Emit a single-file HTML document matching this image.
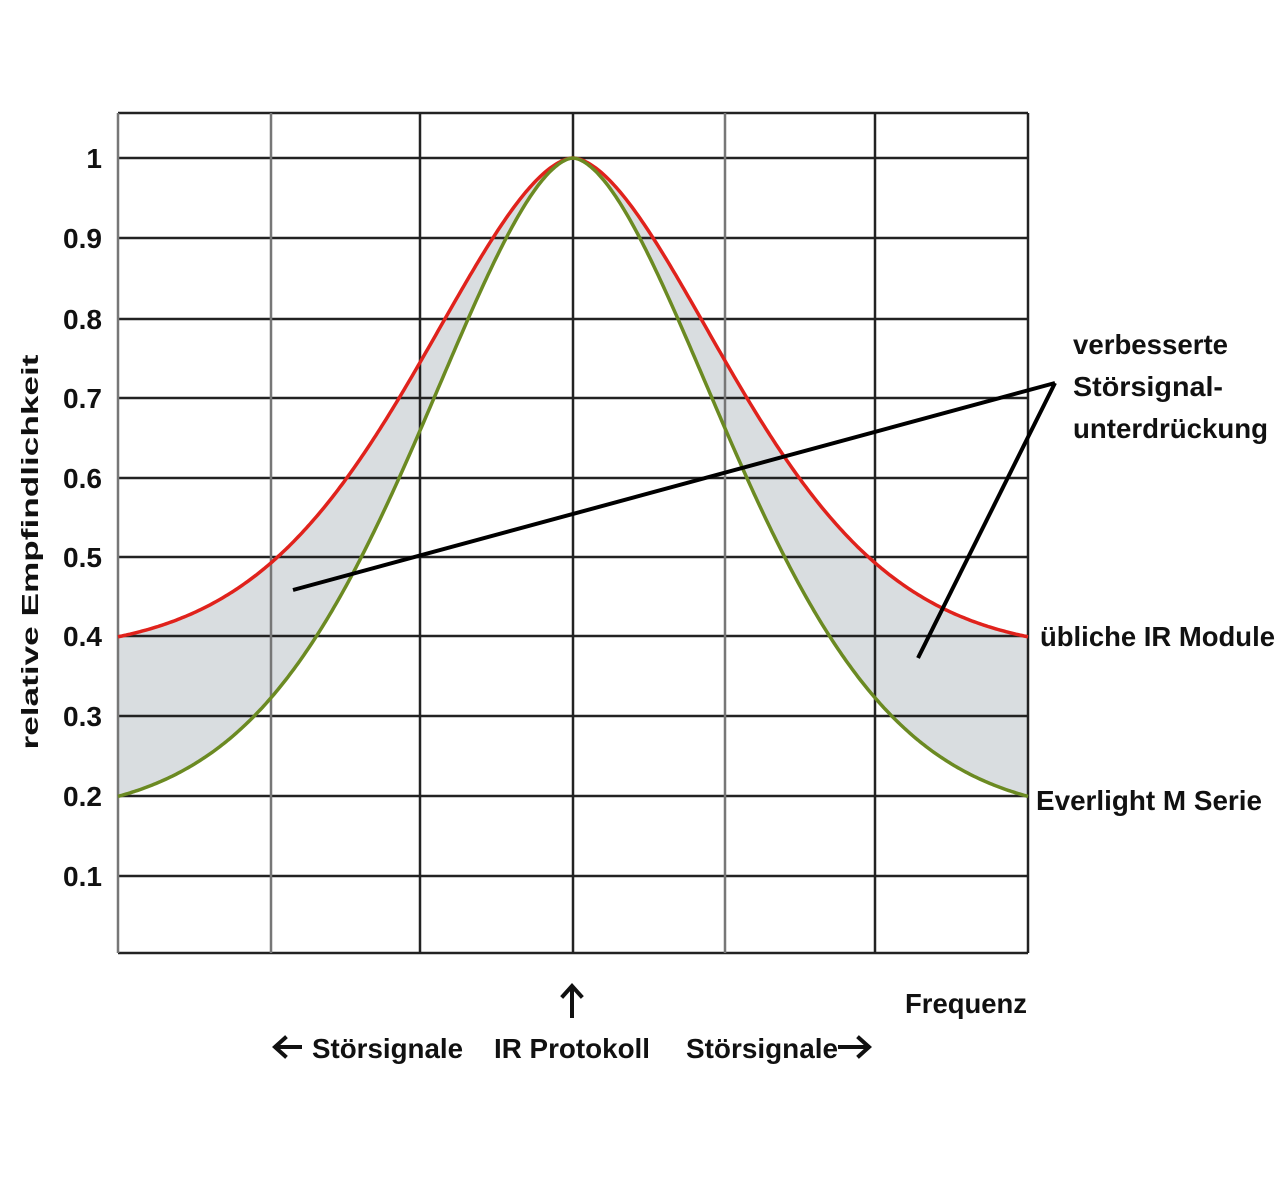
<!DOCTYPE html>
<html><head><meta charset="utf-8"><style>
body{margin:0;background:#fff;width:1280px;height:1190px;overflow:hidden}
text{font-family:"Liberation Sans",sans-serif;font-weight:bold;fill:#111}
</style></head><body>
<svg id="s" width="1280" height="1190" xmlns="http://www.w3.org/2000/svg">
<path id="fill" fill="#d9dde0" stroke="none"/>
<g stroke="#222" stroke-width="2.5">
<line x1="118" y1="113" x2="1028" y2="113"/>
<line x1="118" y1="158" x2="1028" y2="158"/>
<line x1="118" y1="238" x2="1028" y2="238"/>
<line x1="118" y1="319" x2="1028" y2="319"/>
<line x1="118" y1="398" x2="1028" y2="398"/>
<line x1="118" y1="478" x2="1028" y2="478"/>
<line x1="118" y1="557" x2="1028" y2="557"/>
<line x1="118" y1="636" x2="1028" y2="636"/>
<line x1="118" y1="716" x2="1028" y2="716"/>
<line x1="118" y1="796" x2="1028" y2="796"/>
<line x1="118" y1="876" x2="1028" y2="876"/>
<line x1="118" y1="953" x2="1028" y2="953"/>
<line x1="420" y1="113" x2="420" y2="953"/>
<line x1="573" y1="113" x2="573" y2="953"/>
<line x1="875" y1="113" x2="875" y2="953"/>
<line x1="1028" y1="113" x2="1028" y2="953"/>
</g>
<g stroke="#777" stroke-width="2.5">
<line x1="118" y1="113" x2="118" y2="953"/>
<line x1="271" y1="113" x2="271" y2="953"/>
<line x1="725" y1="113" x2="725" y2="953"/>
</g>
<path id="red" fill="none" stroke="#e0221c" stroke-width="3.5"/>
<path id="grn" fill="none" stroke="#6b8a22" stroke-width="3.5"/>
<g stroke="#000" stroke-width="4" fill="none">
<line x1="293" y1="590" x2="1055" y2="383"/>
<line x1="1055" y1="383" x2="918" y2="658"/>
</g>
<g font-size="28" text-anchor="end" lengthAdjust="spacingAndGlyphs">
<text x="102" y="168">1</text>
<text x="102" y="248" textLength="39" lengthAdjust="spacingAndGlyphs">0.9</text>
<text x="102" y="329" textLength="39" lengthAdjust="spacingAndGlyphs">0.8</text>
<text x="102" y="408" textLength="39" lengthAdjust="spacingAndGlyphs">0.7</text>
<text x="102" y="488" textLength="39" lengthAdjust="spacingAndGlyphs">0.6</text>
<text x="102" y="567" textLength="39" lengthAdjust="spacingAndGlyphs">0.5</text>
<text x="102" y="646" textLength="39" lengthAdjust="spacingAndGlyphs">0.4</text>
<text x="102" y="726" textLength="39" lengthAdjust="spacingAndGlyphs">0.3</text>
<text x="102" y="806" textLength="39" lengthAdjust="spacingAndGlyphs">0.2</text>
<text x="102" y="886" textLength="39" lengthAdjust="spacingAndGlyphs">0.1</text>
</g>
<text font-size="23" transform="translate(38,552) rotate(-90)" text-anchor="middle" textLength="395" lengthAdjust="spacingAndGlyphs">relative Empfindlichkeit</text>
<g font-size="28">
<text x="1073" y="354" textLength="155" lengthAdjust="spacingAndGlyphs">verbesserte</text>
<text x="1073" y="396" textLength="150" lengthAdjust="spacingAndGlyphs">Störsignal-</text>
<text x="1073" y="438" textLength="195" lengthAdjust="spacingAndGlyphs">unterdrückung</text>
<text x="1040" y="646" textLength="235" lengthAdjust="spacingAndGlyphs">übliche IR Module</text>
<text x="1036" y="810" textLength="226" lengthAdjust="spacingAndGlyphs">Everlight M Serie</text>
<text x="905" y="1013" textLength="122" lengthAdjust="spacingAndGlyphs">Frequenz</text>
<text x="312" y="1058" textLength="151" lengthAdjust="spacingAndGlyphs">Störsignale</text>
<text x="494" y="1058" textLength="156" lengthAdjust="spacingAndGlyphs">IR Protokoll</text>
<text x="686" y="1058" textLength="152" lengthAdjust="spacingAndGlyphs">Störsignale</text>
</g>
<g stroke="#111" stroke-width="4" fill="none" stroke-linecap="square">
<path d="M300,1047 H276 M285,1038 L275,1047 L285,1056"/>
<path d="M840,1047 H868 M859,1038 L869,1047 L859,1056"/>
<path d="M572,1016 V988 M563,996 L572,986 L581,996"/>
</g>
</svg>
<script>
function sh(d){var a=221,p=1.71,e=Math.exp(-Math.pow(455/a,p));var g=Math.exp(-Math.pow(Math.abs(d)/a,p));return Math.max(0,(g-e)/(1-e));}
function pts(base,amp){var a=[];for(var x=118;x<=1028;x+=2){var v=base+amp*sh(x-573);a.push([x,158+(1-v)*798]);}return a;}
var r=pts(0.4,0.6),g=pts(0.2,0.8);
function p(a){return 'M'+a.map(function(q){return q[0]+','+q[1].toFixed(1)}).join('L');}
document.getElementById('red').setAttribute('d',p(r));
document.getElementById('grn').setAttribute('d',p(g));
document.getElementById('fill').setAttribute('d',p(r)+'L'+g.slice().reverse().map(function(q){return q[0]+','+q[1].toFixed(1)}).join('L')+'Z');
</script>
</body></html>
